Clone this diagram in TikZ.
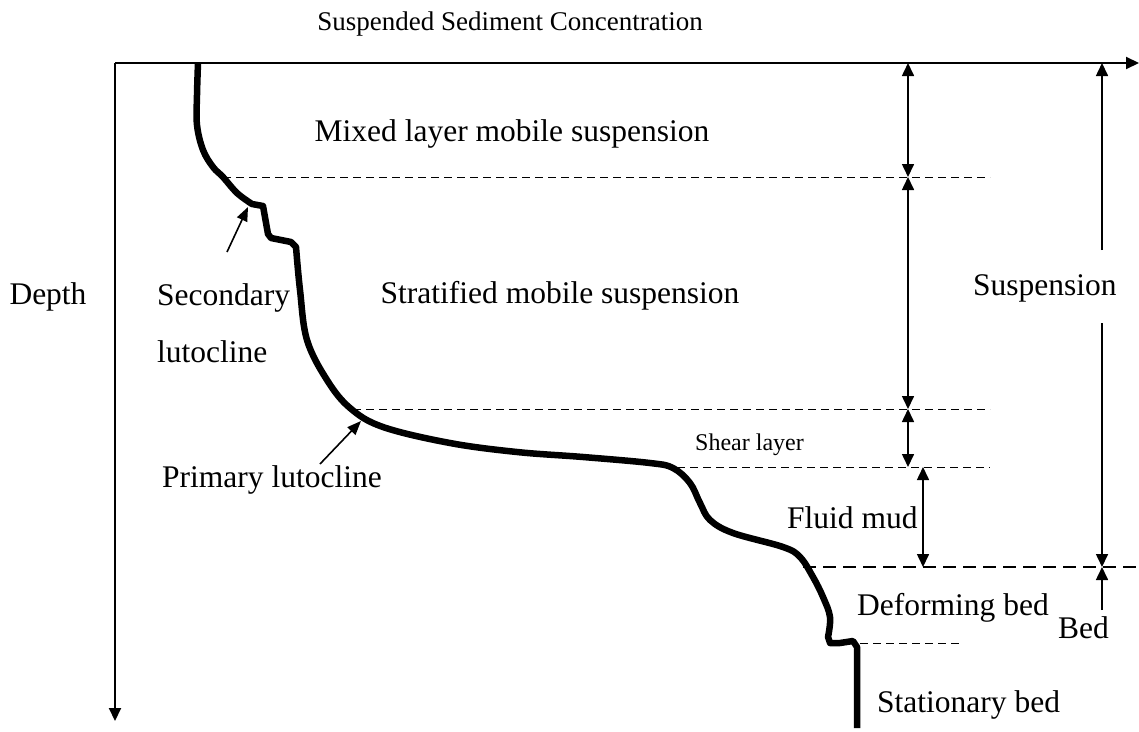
\documentclass[tikz,border=0pt]{standalone}
\usepackage{fontspec}
\setmainfont{Liberation Serif}
\usetikzlibrary{arrows.meta}
\begin{document}
\begin{tikzpicture}[x=1pt,y=-1pt,
  lbl/.style={inner sep=0pt,font=\fontsize{31.5}{36}\selectfont},
  small/.style={inner sep=0pt,font=\fontsize{24}{28}\selectfont},
  axis/.style={line width=2pt,-{Triangle[length=13pt,width=12pt]}},
  dim/.style={line width=1.6pt,{Triangle[length=13pt,width=12pt]}-{Triangle[length=13pt,width=12pt]}},
  sarr/.style={line width=1.6pt,-{Triangle[length=13pt,width=12pt]}},
  dsh/.style={line width=1pt,dash pattern=on 8pt off 5pt},
  dshb/.style={line width=1.5pt,dash pattern=on 13pt off 7pt},
  curve/.style={line width=6.5pt,line join=round,line cap=butt},
  pointer/.style={line width=1.6pt,-{Triangle[length=14pt,width=11pt]}}]
\useasboundingbox (0,0) rectangle (1139,731);
% axes
\coordinate (O) at (115,63);
\coordinate (xend) at (1139,63);
\coordinate (yend) at (115,721);
\draw[axis] (O) -- (xend);
\draw[axis] (O) -- (yend);
% level coordinates
\coordinate (a0) at (908,63);
\coordinate (a1) at (908,177);
\coordinate (a2) at (908,409);
\coordinate (a3) at (908,467);
\coordinate (b0) at (923,467);
\coordinate (b1) at (923,567);
\coordinate (s0) at (1102,63);
\coordinate (s1) at (1102,250);
\coordinate (s2) at (1102,323);
\coordinate (s3) at (1102,567);
\coordinate (s4) at (1102,610);
% dashed boundaries
\coordinate (d1a) at (223,177); \coordinate (d1b) at (990,177);
\coordinate (d2a) at (353,409); \coordinate (d2b) at (990,409);
\coordinate (d3a) at (677,467); \coordinate (d3b) at (990,467);
\coordinate (d4a) at (803,567); \coordinate (d4b) at (1139,567);
\coordinate (d5a) at (860,643); \coordinate (d5b) at (963,643);
\draw[dsh] (d1a) -- (d1b);
\draw[dsh] (d2a) -- (d2b);
\draw[dsh] (d3a) -- (d3b);
\draw[dshb] (d4a) -- (d4b);
\draw[dsh] (d5a) -- (d5b);
% dimension arrows
\draw[dim] (a0) -- (a1);
\draw[dim] (a1) -- (a2);
\draw[dim] (a2) -- (a3);
\draw[dim] (b0) -- (b1);
\draw[sarr] (s1) -- (s0);
\draw[sarr] (s2) -- (s3);
\draw[sarr] (s4) -- (s3);
% profile curve
\draw[curve] plot[smooth,tension=0.6] coordinates {(198,63) (197,95) (197,125) (203,150) (213,167) (223,177) (237,193) (252,204)}
  -- (263,206) -- (268,234) -- (271,238) -- (291,242) -- (296,247)
  -- plot[smooth,tension=0.6] coordinates {(296,247) (300,290) (307,340) (327,380) (350,408) (383,427) (450,443) (517,452) (583,457) (650,463) (673,468) (690,483) (700,503) (710,520) (733,533) (783,547) (800,557) (813,577) (823,597) (830,617) (828,637)}
  -- (830,643) -- (840,643) -- (853,641) -- (857,647) -- (857,728);
% labels
\node[lbl,anchor=base,font=\fontsize{27}{32}\selectfont] (title) at (510,30) {Suspended Sediment Concentration};
\node[lbl,anchor=base] (depth) at (48,304) {Depth};
\node[lbl,anchor=base] (mixed) at (512,141) {Mixed layer mobile suspension};
\node[lbl,anchor=base] (strat) at (560,303) {Stratified mobile suspension};
\node[lbl,anchor=base west] (sec1) at (157,305) {Secondary};
\node[lbl,anchor=base west] (sec2) at (157,362) {lutocline};
\node[lbl,anchor=base west] (prim) at (162,487) {Primary lutocline};
\node[small,anchor=base west] (shear) at (695,450) {Shear layer};
\node[lbl,anchor=base west] (fluid) at (787,528) {Fluid mud};
\node[lbl,anchor=base west] (deform) at (857,615) {Deforming bed};
\node[lbl,anchor=base west] (bed) at (1058,638) {Bed};
\node[lbl,anchor=base west] (stat) at (877,712) {Stationary bed};
\node[lbl,anchor=base west] (susp) at (973,295) {Suspension};
% pointers
\coordinate (secTip) at (248,207);
\coordinate (secTail) at (227,252);
\coordinate (priTip) at (361,421);
\coordinate (priTail) at (320,464);
\draw[pointer] (secTail) -- (secTip);
\draw[pointer] (priTail) -- (priTip);
\end{tikzpicture}
\end{document}
